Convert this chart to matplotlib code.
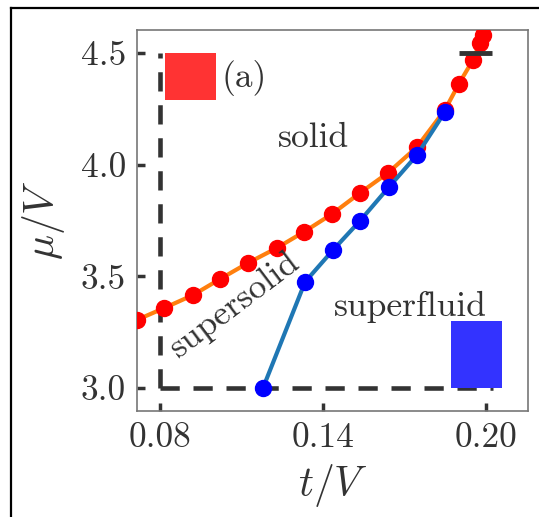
import numpy as np
import matplotlib
matplotlib.use("Agg")
import matplotlib.pyplot as plt
from matplotlib.patches import Rectangle
from matplotlib.lines import Line2D

plt.rcParams['font.family'] = 'serif'
plt.rcParams['font.serif'] = ['cmr10', 'DejaVu Serif']
plt.rcParams['mathtext.fontset'] = 'cm'
plt.rcParams['axes.formatter.use_mathtext'] = True

# solid / supersolid boundary (red) and supersolid / superfluid boundary (blue)
t_red = [0.0715, 0.0815, 0.0921, 0.1021, 0.1124, 0.1230, 0.1330, 0.1433,
         0.1536, 0.1639, 0.1746, 0.1849, 0.1900, 0.1952, 0.1978, 0.1990]
mu_red = [3.305, 3.358, 3.416, 3.488, 3.560, 3.627, 3.699, 3.779,
          3.873, 3.963, 4.079, 4.245, 4.361, 4.468, 4.545, 4.580]
t_blue = [0.1179, 0.1334, 0.1437, 0.1536, 0.1643, 0.1746, 0.1849]
mu_blue = [3.000, 3.475, 3.618, 3.748, 3.900, 4.043, 4.236]

xticks = [0.08, 0.14, 0.20]
xtick_labels = ["0.08", "0.14", "0.20"]
yticks = [3.0, 3.5, 4.0, 4.5]
ytick_labels = ["3.0", "3.5", "4.0", "4.5"]

dark = '#333333'
fs = 25.5

fig = plt.figure(figsize=(5.39, 5.17), dpi=100)
ax = fig.add_axes([137/539, 1 - 411/517, (528-137)/539, (411-30)/517])

# dashed box of the scanned window
ax.plot([0.08, 0.08], [3.0, 4.5], color=dark, lw=3.3, dashes=(4.2, 3.0), zorder=1)
ax.plot([0.08, 0.2025], [3.0, 3.0], color=dark, lw=3.3, dashes=(4.2, 3.0), zorder=1)
ax.plot([0.190, 0.2023], [4.5, 4.5], color=dark, lw=3.5, solid_capstyle='butt', zorder=5)

ax.plot(t_red, mu_red, '-o', color='#ff7f0e', lw=3, mfc='red', mec='red', ms=11.5, zorder=3)
ax.plot(t_blue, mu_blue, '-o', color='#1f77b4', lw=3, mfc='blue', mec='blue', ms=11.5, zorder=4)

ax.add_patch(Rectangle((0.0818, 4.29), 0.0188, 0.21, color='#ff3333', lw=0, zorder=2))
ax.add_patch(Rectangle((0.1870, 3.0), 0.0188, 0.30, color='#3333ff', lw=0, zorder=2))

ax.text(0.1025, 4.39, "(a)", fontsize=fs, color=dark, ha='left', va='center')
ax.text(0.1363, 4.12, "solid", fontsize=fs, color=dark, ha='center', va='center')
ax.text(0.172, 3.363, "superfluid", fontsize=fs, color=dark, ha='center', va='center')
ax.text(0.1076, 3.372, "supersolid", fontsize=fs, color=dark, ha='center', va='center',
        rotation=37)

ax.set_xlim(0.0715, 0.2155)
ax.set_ylim(2.897, 4.603)
ax.set_xticks(xticks, xtick_labels)
ax.set_yticks(yticks, ytick_labels)
ax.tick_params(direction='in', length=6, width=2.5, color=dark, labelcolor=dark,
               labelsize=fs, pad=8, top=False, right=False)
for s in ax.spines.values():
    s.set_color('#777777')
    s.set_linewidth(1.2)

ax.set_xlabel(r'$t/V$', fontsize=30, color=dark, labelpad=6)
ax.set_ylabel(r'$\mu/V$', fontsize=30, color=dark, labelpad=10)

# outer frame of the cropped panel
fig.add_artist(Line2D([11/539, 11/539], [0, 1 - 8/517], color='black', lw=1.6,
                      transform=fig.transFigure))
fig.add_artist(Line2D([11/539, 1], [1 - 8/517, 1 - 8/517], color='black', lw=1.6,
                      transform=fig.transFigure))

fig.savefig("out.png", dpi=100)
